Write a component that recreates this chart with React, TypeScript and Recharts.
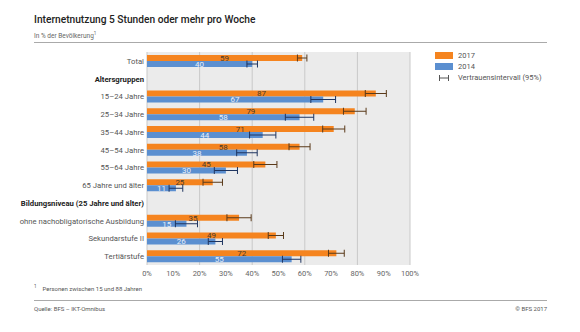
import React from 'react';
import { BarChart, Bar, XAxis, YAxis, CartesianGrid, ErrorBar, LabelList } from 'recharts';

const categories = [
  'Total',
  'Altersgruppen',
  '15–24 Jahre',
  '25–34 Jahre',
  '35–44 Jahre',
  '45–54 Jahre',
  '55–64 Jahre',
  '65 Jahre und älter',
  'Bildungsniveau (25 Jahre und älter)',
  'ohne nachobligatorische Ausbildung',
  'Sekundarstufe II',
  'Tertiärstufe',
];
const headers = ['Altersgruppen', 'Bildungsniveau (25 Jahre und älter)'];

const values2017 = [59, null, 87, 79, 71, 58, 45, 25, null, 35, 49, 72];
const ci2017 = [1.8, null, 4, 4.3, 4.2, 4, 4.4, 3.7, null, 4.6, 2.9, 3];
const values2014 = [40, null, 67, 58, 44, 38, 30, 11, null, 15, 26, 55];
const ci2014 = [2, null, 4.7, 5.4, 5, 3.9, 4.4, 2.6, null, 4.2, 2.7, 3.5];

const xTicks = [0, 10, 20, 30, 40, 50, 60, 70, 80, 90, 100];

const ORANGE = '#f5841f';
const BLUE = '#5b8fd0';
const FONT = 'Roboto, sans-serif';

const data = categories.map((name, i) => ({
  name,
  v2017: values2017[i],
  e2017: ci2017[i],
  v2014: values2014[i],
  e2014: ci2014[i],
}));

const CategoryTick = (props: any) => {
  const { x, y, payload } = props;
  const isHeader = headers.includes(payload.value);
  return (
    <text
      x={x}
      y={y}
      dy={3}
      textAnchor="end"
      fontSize={7.7}
      fontFamily={FONT}
      fontWeight={isHeader ? 700 : 400}
      fill={isHeader ? '#222' : '#555'}
    >
      {payload.value}
    </text>
  );
};

export default function App() {
  return (
    <div style={{ position: 'absolute', left: 0, top: 0, width: 580, height: 332, background: '#fff', fontFamily: FONT }}>
      <div style={{ position: 'absolute', left: 34, top: 14, fontSize: 10.2, fontWeight: 500, color: '#222' }}>
        Internetnutzung 5 Stunden oder mehr pro Woche
      </div>
      <div style={{ position: 'absolute', left: 34, top: 31, fontSize: 6.5, color: '#666' }}>
        In % der Bevölkerung<sup style={{ fontSize: 4.5 }}>1</sup>
      </div>
      <div style={{ position: 'absolute', left: 34, top: 42, width: 513, height: 1, background: '#aaa' }} />

      <BarChart
        width={580}
        height={332}
        data={data}
        layout="vertical"
        margin={{ top: 52, right: 170, bottom: 47, left: 0 }}
        barGap={0}
        barCategoryGap={2}
        style={{ position: 'absolute', left: 0, top: 0 }}
      >
        <CartesianGrid horizontal={false} stroke="#c9c9c9" fill="#ebebeb" vertical verticalValues={xTicks} />
        <XAxis
          type="number"
          domain={[0, 100]}
          ticks={xTicks}
          tickFormatter={(v) => `${v}%`}
          axisLine={false}
          tickLine={false}
          tick={{ fontSize: 7.5, fill: '#666', fontFamily: FONT }}
          height={20}
          tickMargin={0}
        />
        <YAxis
          type="category"
          dataKey="name"
          width={147}
          axisLine={false}
          tickLine={false}
          tickSize={0}
          tickMargin={3}
          interval={0}
          tick={<CategoryTick />}
        />
        <Bar dataKey="v2017" fill={ORANGE} barSize={6} isAnimationActive={false}>
          <LabelList dataKey="v2017" position="center" fontSize={8} fill="#4a3a2a" fontFamily={FONT} />
          <ErrorBar dataKey="e2017" direction="x" width={3.5} stroke="#5a3a1a" strokeWidth={1} />
        </Bar>
        <Bar dataKey="v2014" fill={BLUE} barSize={6} isAnimationActive={false}>
          <LabelList dataKey="v2014" position="center" fontSize={8} fill="#e8f0fb" fontFamily={FONT} />
          <ErrorBar dataKey="e2014" direction="x" width={3.5} stroke="#1f3560" strokeWidth={1} />
        </Bar>
      </BarChart>

      <div style={{ position: 'absolute', left: 435, top: 52, width: 18, height: 7, background: ORANGE }} />
      <div style={{ position: 'absolute', left: 458, top: 51, fontSize: 7.5, color: '#555' }}>2017</div>
      <div style={{ position: 'absolute', left: 435, top: 63, width: 18, height: 7, background: BLUE }} />
      <div style={{ position: 'absolute', left: 458, top: 62, fontSize: 7.5, color: '#555' }}>2014</div>
      <svg style={{ position: 'absolute', left: 438, top: 74 }} width={12} height={8}>
        <line x1={1} y1={4} x2={11} y2={4} stroke="#555" strokeWidth={1} />
        <line x1={1.5} y1={1} x2={1.5} y2={7} stroke="#555" strokeWidth={1} />
        <line x1={10.5} y1={1} x2={10.5} y2={7} stroke="#555" strokeWidth={1} />
      </svg>
      <div style={{ position: 'absolute', left: 458, top: 73, fontSize: 7.5, color: '#555' }}>Vertrauensintervall (95%)</div>

      <div style={{ position: 'absolute', left: 34, top: 284, fontSize: 6, color: '#555' }}>
        <sup style={{ fontSize: 4.5 }}>1</sup>
        <span style={{ marginLeft: 6 }}>Personen zwischen 15 und 88 Jahren</span>
      </div>
      <div style={{ position: 'absolute', left: 34, top: 300, width: 513, height: 1, background: '#aaa' }} />
      <div style={{ position: 'absolute', left: 34, top: 305, fontSize: 6, color: '#555' }}>Quelle: BFS – IKT-Omnibus</div>
      <div style={{ position: 'absolute', right: 33, top: 305, fontSize: 6, color: '#555' }}>© BFS 2017</div>
    </div>
  );
}
